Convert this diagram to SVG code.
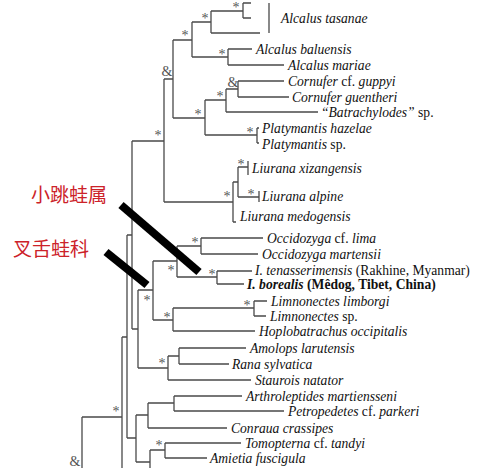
<svg xmlns="http://www.w3.org/2000/svg" width="500" height="468" viewBox="0 0 500 468">
<style>
.t{font-family:"Liberation Serif","Times New Roman",serif;font-size:13.6px;font-style:italic;fill:#111}
.u{font-style:normal}
.b{font-weight:bold}
.s{font-family:"Liberation Serif",serif;font-size:14px;fill:#555;text-anchor:middle}
.cn{font-family:"Noto Sans CJK SC",sans-serif;font-size:19px;fill:#cc2229}
.br{stroke:#000;stroke-width:8;fill:none}
</style>
<rect width="500" height="468" fill="#fff"/>
<g id="connectors" fill="none" stroke="#4a4a4a" stroke-width="1.3">
<path d="M243,3H251M243,18H251M243,3V18M211,11H243M211,11V33M211,33H260M269,3V33"/>
<path d="M192,22H211M192,22V57M228,49V65M228,49H252M228,65H284M192,57H228M173,40H192M173,40V118M164,79H173"/>
<path d="M238,81V97M238,81H284M238,97H289M226,89H238M226,89V112M226,112H318M205,100H226M205,100V135M257,128V143M257,128H259M257,143H259M205,135H257M173,118H205"/>
<path d="M164,79V202M248,161V175M238,167H248M238,167V197M259,191V202M238,197H259M233,182H238M233,182V222M233,222H236M164,202H233"/>
<path d="M132,141H164M132,141V329"/>
<path d="M201,238V254M201,238H263M201,254H258M177,246H201M177,246V277M217,271V284M217,271H252M217,284H244M177,277H217M153,261H177M153,261V320"/>
<path d="M254,301V316M254,301H267M254,316H266M173,308H254M173,308V331M173,331H255M153,320H173M138,290H153M138,290V368"/>
<path d="M179,348V364M179,348H246M179,364H229M168,356H179M168,356V380M168,380H251M138,368H168M132,329H138"/>
<path d="M127,235H132M127,235V438M174,396V411M174,396H242M174,411H284M148,403H174M148,403V428M148,428H227M136,415H148M136,415V462"/>
<path d="M165,443V458M165,443H241M165,458H207M150,450H165M150,450V468M136,462H150M127,438H136M122,337H127M122,337V468M82,417H122M82,417V468"/>
</g>
<g id="supports">
<text class="s" x="236" y="11.5">*</text>
<text class="s" x="205" y="22.5">*</text>
<text class="s" x="185" y="39.5">*</text>
<text class="s" x="222" y="58.5">*</text>
<text class="s" x="167" y="76">&amp;</text>
<text class="s" x="233" y="87">&amp;</text>
<text class="s" x="220" y="100.5">*</text>
<text class="s" x="198" y="118.5">*</text>
<text class="s" x="250" y="136.5">*</text>
<text class="s" x="158" y="139.5">*</text>
<text class="s" x="241" y="168.5">*</text>
<text class="s" x="251" y="198.5">*</text>
<text class="s" x="227" y="200.5">*</text>
<text class="s" x="195" y="246.5">*</text>
<text class="s" x="212" y="278.5">*</text>
<text class="s" x="171" y="274.5">*</text>
<text class="s" x="147" y="304.5">*</text>
<text class="s" x="247" y="309.5">*</text>
<text class="s" x="167" y="321.5">*</text>
<text class="s" x="162" y="367.5">*</text>
<text class="s" x="116" y="415.5">*</text>
<text class="s" x="159" y="449.5">*</text>
<text class="s" x="75" y="466">&amp;</text>
</g>
<g id="taxa">
<text id="n1" class="t" x="281" y="22.5">Alcalus tasanae</text>
<text id="n2" class="t" x="256" y="53.5">Alcalus baluensis</text>
<text id="n3" class="t" x="288" y="69.5">Alcalus mariae</text>
<text id="n4" class="t" x="288" y="85.5">Cornufer <tspan class="u">cf.</tspan> guppyi</text>
<text id="n5" class="t" x="292" y="101.5">Cornufer guentheri</text>
<text id="n6" class="t" x="321" y="116.5">“Batrachylodes” <tspan class="u">sp.</tspan></text>
<text id="n7" class="t" x="262" y="132.5">Platymantis hazelae</text>
<text id="n8" class="t" x="262" y="148.5">Platymantis <tspan class="u">sp.</tspan></text>
<text id="n9" class="t" x="252" y="172.5">Liurana xizangensis</text>
<text id="n10" class="t" x="262" y="200.5">Liurana alpine</text>
<text id="n11" class="t" x="240" y="220.5">Liurana medogensis</text>
<text id="n12" class="t" x="267" y="242.5">Occidozyga <tspan class="u">cf.</tspan> lima</text>
<text id="n13" class="t" x="262" y="258.5">Occidozyga martensii</text>
<text id="n14" class="t" x="255" y="274.5">I. tenasserimensis<tspan class="u"> (Rakhine, Myanmar)</tspan></text>
<text id="n15" class="t b" x="247" y="289">I. borealis<tspan class="u"> (Mêdog, Tibet, China)</tspan></text>
<text id="n16" class="t" x="271" y="305.5">Limnonectes limborgi</text>
<text id="n17" class="t" x="270" y="320.5">Limnonectes <tspan class="u">sp.</tspan></text>
<text id="n18" class="t" x="259" y="335.5">Hoplobatrachus occipitalis</text>
<text id="n19" class="t" x="250" y="352.5">Amolops larutensis</text>
<text id="n20" class="t" x="232" y="368.5">Rana sylvatica</text>
<text id="n21" class="t" x="255" y="384.5">Staurois natator</text>
<text id="n22" class="t" x="246" y="400.5">Arthroleptides martiensseni</text>
<text id="n23" class="t" x="288" y="415.5">Petropedetes <tspan class="u">cf.</tspan> parkeri</text>
<text id="n24" class="t" x="231" y="432.5">Conraua crassipes</text>
<text id="n25" class="t" x="245" y="447.5">Tomopterna <tspan class="u">cf.</tspan> tandyi</text>
<text id="n26" class="t" x="210" y="462.5">Amietia fuscigula</text>
</g>
<g id="annotations">
<text id="lbl1" class="cn" x="31" y="202">小跳蛙属</text>
<text id="lbl2" class="cn" x="13" y="256">叉舌蛙科</text>
<line class="br" x1="121" y1="205" x2="199" y2="272"/>
<line class="br" x1="106" y1="252" x2="147" y2="285"/>
</g>
</svg>
